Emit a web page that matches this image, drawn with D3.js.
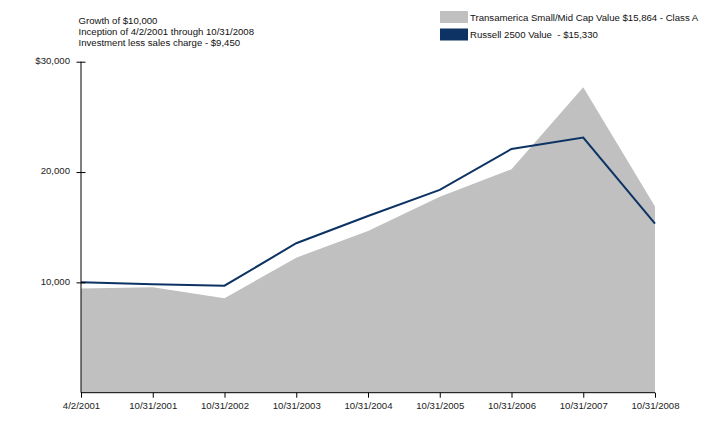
<!DOCTYPE html>
<html>
<head>
<meta charset="utf-8">
<script src="https://cdn.jsdelivr.net/npm/d3@7"></script>
<style>
  body { margin: 0; background: #fff; }
  svg { display: block; font-family: "Liberation Sans", Arial, sans-serif; }
  text { white-space: pre; }
</style>
</head>
<body>
<svg id="chart" width="719" height="431"></svg>
<script>
const categories = ["4/2/2001", "10/31/2001", "10/31/2002", "10/31/2003", "10/31/2004", "10/31/2005", "10/31/2006", "10/31/2007", "10/31/2008"];
const fundValues = [9450, 9560, 8560, 12240, 14660, 17770, 20250, 27690, 16870];
const indexValues = [10000, 9830, 9700, 13545, 16020, 18380, 22090, 23120, 15330];
const yTicks = [10000, 20000, 30000];
const yTickLabels = ["10,000", "20,000", "$30,000"];
const titleLines = ["Growth of $10,000", "Inception of 4/2/2001 through 10/31/2008", "Investment less sales charge - $9,450"];
const legendLabels = ["Transamerica Small/Mid Cap Value $15,864 - Class A", "Russell 2500 Value  - $15,330"];
const colors = ["#c0c0c0", "#0c3363"];

const svg = d3.select("#chart");
const mLeft = 81, mRight = 655, mTop = 61.7, mBottom = 392.7;

const x = d3.scalePoint().domain(categories).range([mLeft, mRight]);
const y = d3.scaleLinear().domain([0, 30000]).range([mBottom, mTop]);

// area
const area = d3.area()
  .x((d, i) => x(categories[i]))
  .y0(y(0))
  .y1(d => y(d));
svg.append("path").datum(fundValues)
  .attr("d", area)
  .attr("fill", colors[0]);

// line
const line = d3.line()
  .x((d, i) => x(categories[i]))
  .y(d => y(d));
svg.append("path").datum(indexValues)
  .attr("d", line)
  .attr("fill", "none")
  .attr("stroke", colors[1])
  .attr("stroke-width", 2);

// y axis
const yAxis = svg.append("g").attr("transform", `translate(${mLeft},0)`)
  .call(d3.axisLeft(y).tickValues(yTicks).tickFormat((d, i) => yTickLabels[i]).tickSize(5).tickPadding(6));
yAxis.select(".domain").attr("d", `M0,${mBottom}V${mTop}`).attr("stroke", "#000");
yAxis.selectAll(".tick line").attr("x1", -4.5).attr("x2", 4.5).attr("stroke", "#000");
yAxis.selectAll(".tick text").attr("font-size", 9.6).attr("fill", "#222").attr("x", -11).attr("dy", "0.2em");

// x axis
const xAxis = svg.append("g").attr("transform", `translate(0,${mBottom})`)
  .call(d3.axisBottom(x).tickSize(5).tickPadding(4));
xAxis.select(".domain").attr("d", `M${mLeft},0H${mRight}`).attr("stroke", "#000");
xAxis.selectAll(".tick line").attr("stroke", "#000");
xAxis.selectAll(".tick text").attr("font-size", 9.6).attr("fill", "#222");

// title
svg.append("g").selectAll("text").data(titleLines).join("text")
  .attr("x", 78.5)
  .attr("y", (d, i) => 24 + i * 11.2)
  .attr("font-size", 9.6)
  .attr("fill", "#111")
  .text(d => d);

// legend
const lg = svg.append("g").selectAll("g").data(legendLabels).join("g")
  .attr("transform", (d, i) => `translate(440,${11 + i * 17.5})`);
lg.append("rect").attr("width", 28).attr("height", 12).attr("fill", (d, i) => colors[i]);
lg.append("text").attr("x", 30).attr("y", 9.5).attr("font-size", 9.6).attr("fill", "#111").text(d => d);
</script>
</body>
</html>
